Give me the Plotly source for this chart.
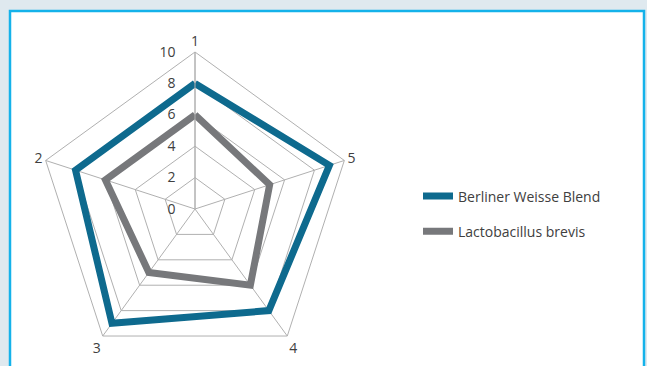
import plotly.graph_objects as go

# Sensory profile scores on five attributes (0-10 scale)
attributes = ["1", "2", "3", "4", "5"]
blend_scores = [8, 8, 9, 8, 9]
brevis_scores = [6, 6, 5, 6, 5]
series_names = ["Berliner Weisse Blend", "Lactobacillus brevis"]
radial_ticks = [0, 2, 4, 6, 8, 10]

W, H = 647, 366
font_family = "'Open Sans', sans-serif"
text_color = "#404040"
grid_color = "#b0b0b0"

fig = go.Figure()

for i, (name, scores, color) in enumerate([
    (series_names[0], blend_scores, "#0e6a8e"),
    (series_names[1], brevis_scores, "#77787b"),
]):
    fig.add_trace(go.Scatterpolar(
        r=scores + scores[:1],
        theta=attributes + attributes[:1],
        mode="lines",
        name=name,
        legendgroup=f"g{i}",
        line=dict(color=color, width=7),
    ))

# centre of the radar and its outer radius, in pixels
cx, cy, rad = 195, 209, 157
fig.update_layout(
    width=W, height=H,
    margin=dict(l=0, r=0, t=0, b=0),
    paper_bgcolor="#dfe9ef",
    font=dict(family=font_family, size=14, color=text_color),
    shapes=[dict(
        type="rect", xref="paper", yref="paper",
        x0=10 / W, x1=644 / W, y0=-0.05, y1=1 - 11 / H,
        fillcolor="white", line=dict(color="#14b2ea", width=2.5),
        layer="below",
    )],
    polar=dict(
        domain=dict(x=[(cx - rad) / W, (cx + rad) / W],
                    y=[(H - cy - rad) / H, (H - cy + rad) / H]),
        bgcolor="white",
        gridshape="linear",
        angularaxis=dict(
            type="category",
            categoryarray=attributes,
            direction="counterclockwise",
            rotation=90,
            showline=True, linecolor=grid_color, linewidth=1,
            gridcolor=grid_color, gridwidth=1,
            ticks="", tickfont=dict(size=14, color=text_color),
        ),
        radialaxis=dict(
            range=[0, 10],
            tickvals=radial_ticks,
            angle=90,
            tickangle=90,
            side="counterclockwise",
            showline=True, linecolor=grid_color, linewidth=1,
            gridcolor=grid_color, gridwidth=1,
            ticks="outside", ticklen=14, tickcolor="rgba(0,0,0,0)",
            tickfont=dict(size=14, color=text_color),
        ),
    ),
    legend=dict(
        x=418 / W, y=(H - 214) / H, xanchor="left", yanchor="middle",
        bgcolor="rgba(0,0,0,0)",
        tracegroupgap=14,
        font=dict(size=14, color=text_color),
    ),
)

fig.write_html("out.html")
